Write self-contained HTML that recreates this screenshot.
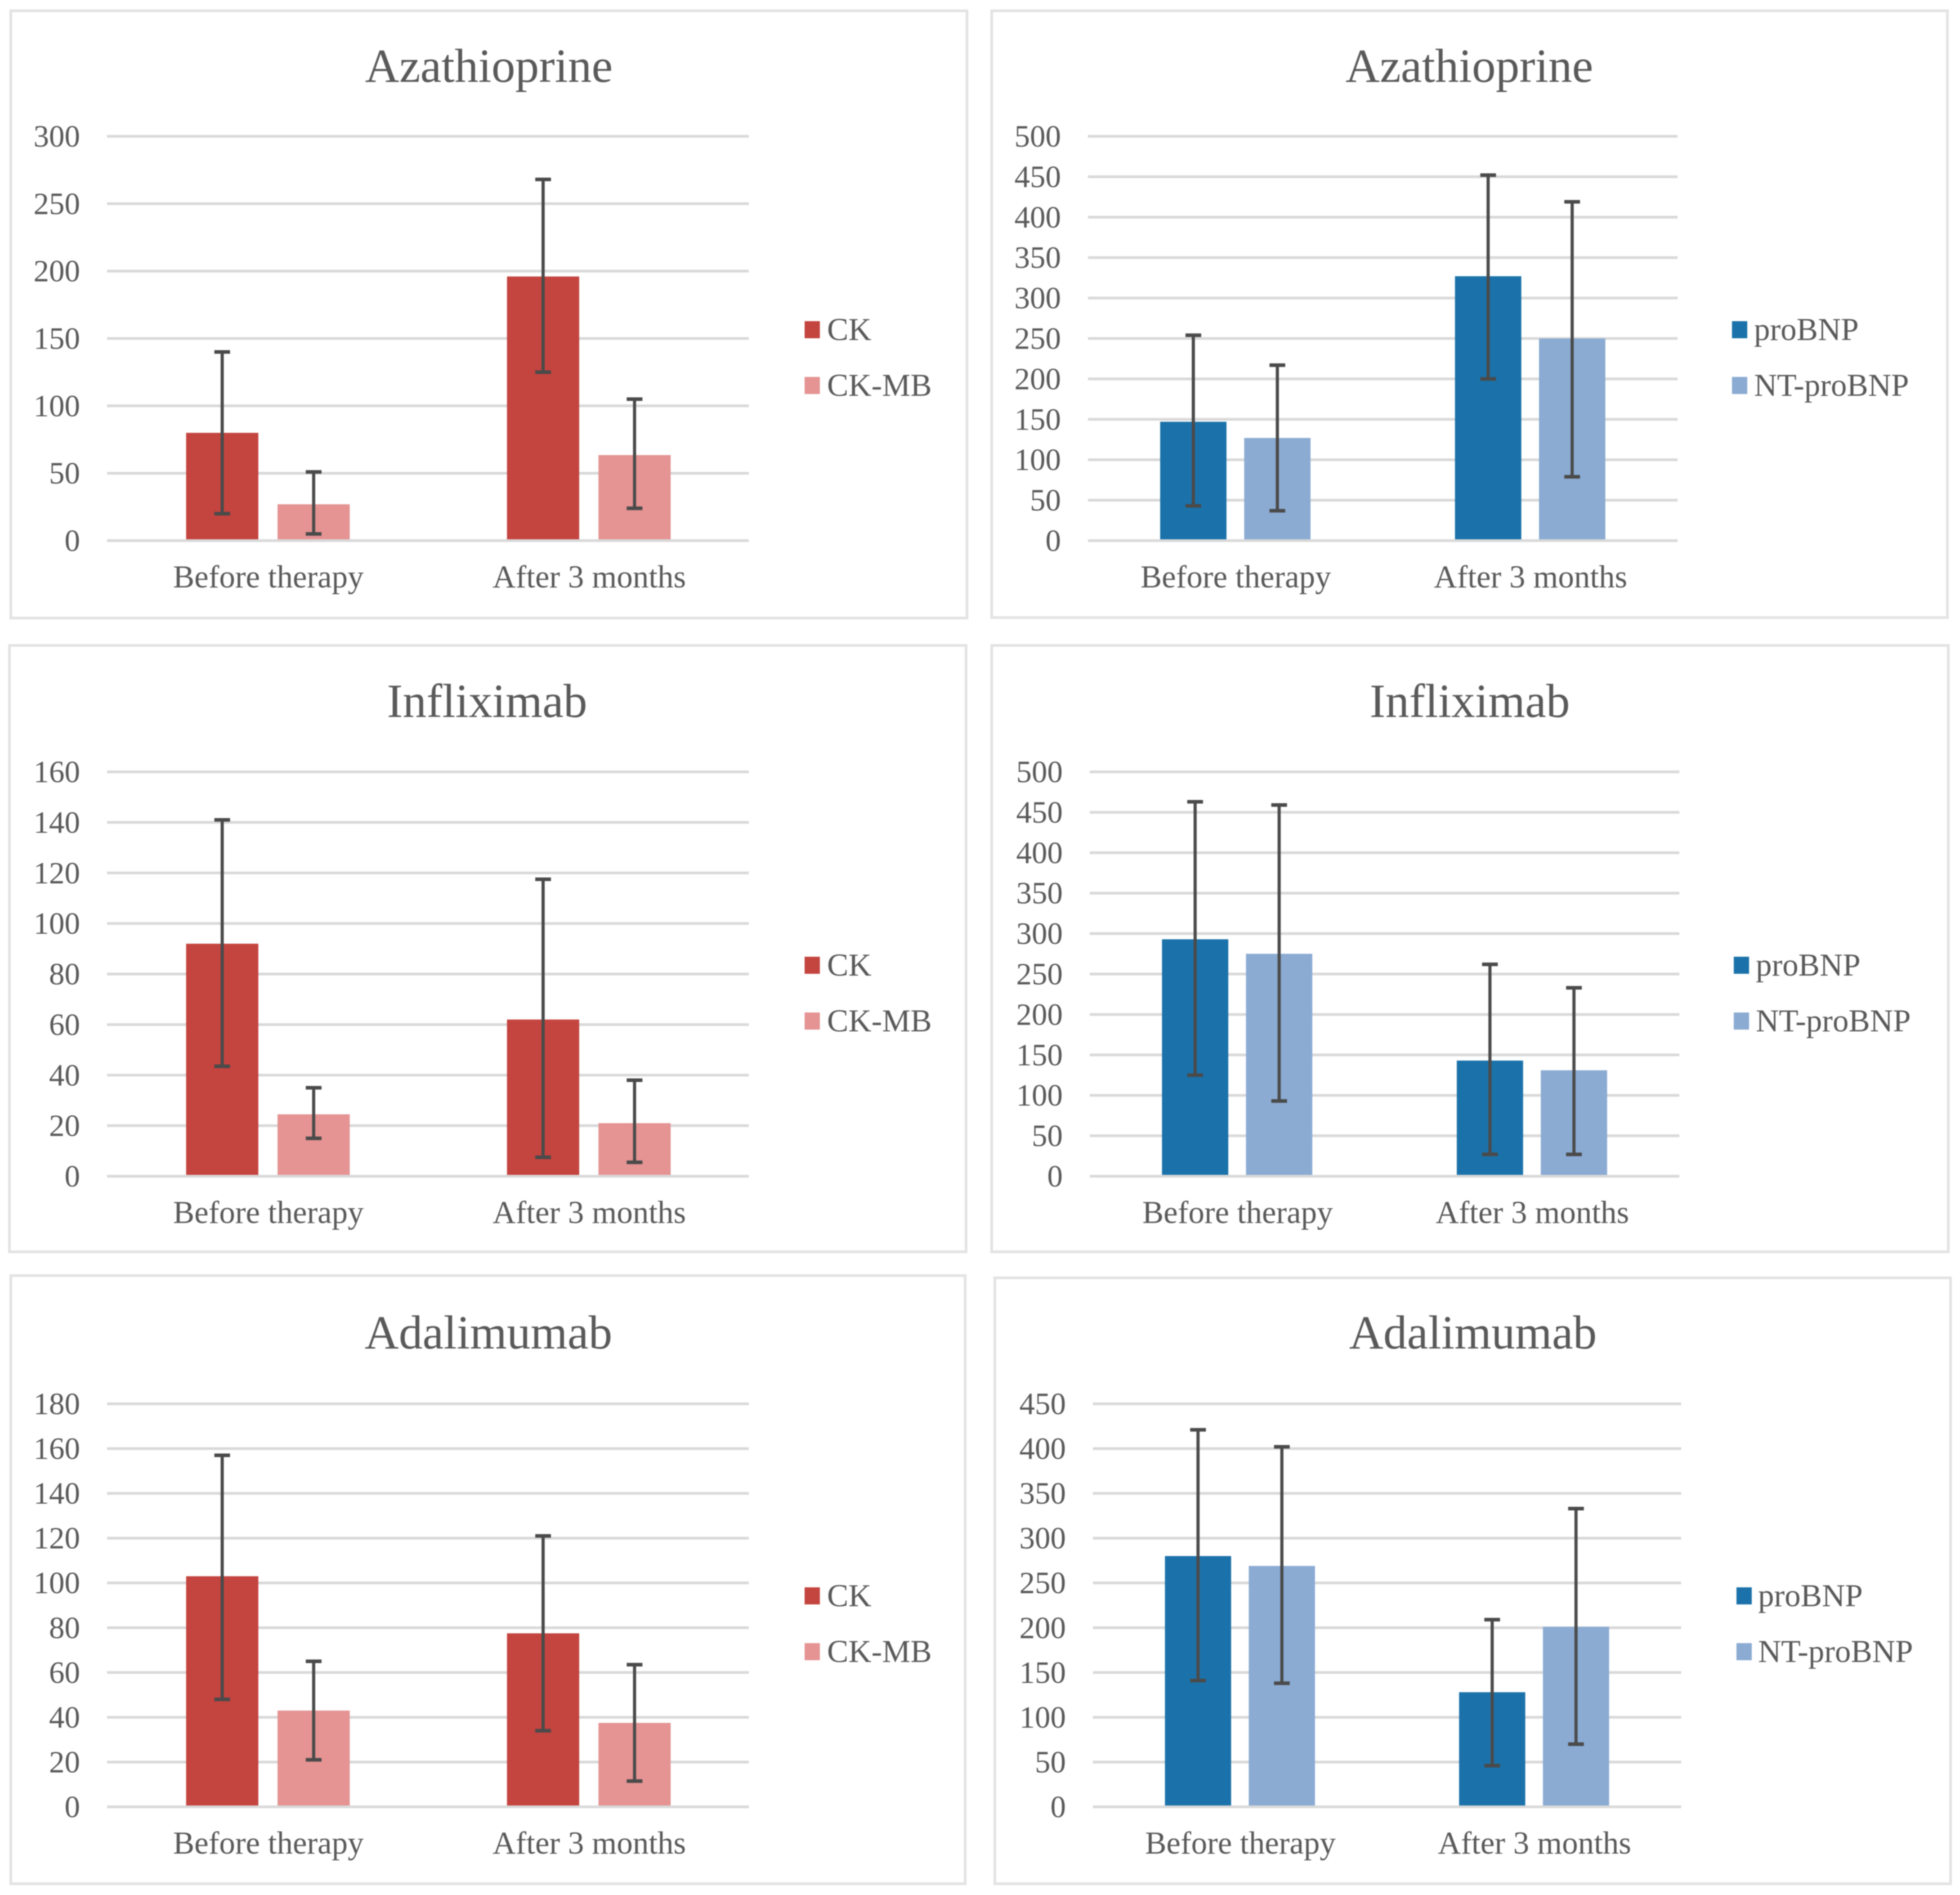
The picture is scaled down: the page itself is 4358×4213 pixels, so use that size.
<!DOCTYPE html>
<html lang="en">
<head>
<meta charset="utf-8">
<title>CK, CK-MB, proBNP and NT-proBNP by therapy</title>
<style>
  html, body { margin: 0; padding: 0; background: #ffffff; }
  svg { display: block; font-family: "Liberation Serif", "Times New Roman", serif; filter: blur(1.2px); }
  .frame { fill: #ffffff; stroke: #e3e3e3; stroke-width: 6; }
  .title { font-size: 105.5px; fill: #595959; text-anchor: middle; }
  .legend-text { font-size: 71px; fill: #595959; }
  .tick { font-size: 69px; fill: #595959; text-anchor: end; }
  .cat { font-size: 71px; fill: #595959; text-anchor: middle; }
</style>
</head>
<body>
<svg xmlns="http://www.w3.org/2000/svg" width="4358" height="4213" viewBox="0 0 4358 4213">
  <rect x="0" y="0" width="4358" height="4213" fill="#ffffff"/>

  <g>
    <rect class="frame" x="24" y="24" width="2126" height="1350"/>
    <text class="title" x="1087" y="182">Azathioprine</text>
    <g id="plot-aza-ck"></g>
    <rect x="1789" y="714" width="34" height="38" fill="#c4443f"/>
    <text class="legend-text" x="1839" y="756">CK</text>
    <rect x="1789" y="838" width="34" height="38" fill="#e59393"/>
    <text class="legend-text" x="1839" y="880">CK-MB</text>
  </g>

  <g>
    <rect class="frame" x="2205" y="24" width="2125" height="1349"/>
    <text class="title" x="3267" y="182">Azathioprine</text>
    <g id="plot-aza-bnp"></g>
    <rect x="3851" y="714" width="34" height="38" fill="#1b72aa"/>
    <text class="legend-text" x="3900" y="756">proBNP</text>
    <rect x="3851" y="838" width="34" height="38" fill="#8babd3"/>
    <text class="legend-text" x="3900" y="880">NT-proBNP</text>
  </g>

  <g>
    <rect class="frame" x="21" y="1435" width="2127" height="1348"/>
    <text class="title" x="1083" y="1594">Infliximab</text>
    <g id="plot-inf-ck"></g>
    <rect x="1789" y="2127" width="34" height="38" fill="#c4443f"/>
    <text class="legend-text" x="1839" y="2169">CK</text>
    <rect x="1789" y="2251" width="34" height="38" fill="#e59393"/>
    <text class="legend-text" x="1839" y="2293">CK-MB</text>
  </g>

  <g>
    <rect class="frame" x="2205" y="1435" width="2127" height="1348"/>
    <text class="title" x="3268" y="1594">Infliximab</text>
    <g id="plot-inf-bnp"></g>
    <rect x="3855" y="2127" width="34" height="38" fill="#1b72aa"/>
    <text class="legend-text" x="3904" y="2169">proBNP</text>
    <rect x="3855" y="2251" width="34" height="38" fill="#8babd3"/>
    <text class="legend-text" x="3904" y="2293">NT-proBNP</text>
  </g>

  <g>
    <rect class="frame" x="24" y="2836" width="2122" height="1352"/>
    <text class="title" x="1086" y="2998">Adalimumab</text>
    <g id="plot-ada-ck"></g>
    <rect x="1789" y="3529" width="34" height="38" fill="#c4443f"/>
    <text class="legend-text" x="1839" y="3571">CK</text>
    <rect x="1789" y="3653" width="34" height="38" fill="#e59393"/>
    <text class="legend-text" x="1839" y="3695">CK-MB</text>
  </g>

  <g>
    <rect class="frame" x="2212" y="2841" width="2125" height="1347"/>
    <text class="title" x="3275" y="2998">Adalimumab</text>
    <g id="plot-ada-bnp"></g>
    <rect x="3861" y="3529" width="34" height="38" fill="#1b72aa"/>
    <text class="legend-text" x="3909" y="3571">proBNP</text>
    <rect x="3861" y="3653" width="34" height="38" fill="#8babd3"/>
    <text class="legend-text" x="3909" y="3695">NT-proBNP</text>
  </g>
</svg>

<script>
const categories = ['Before therapy', 'After 3 months'];

const azaCkTicks = [0, 50, 100, 150, 200, 250, 300];
const azaCk = [80, 196];
const azaCkUpper = [140, 268];
const azaCkLower = [20, 125];
const azaCkMb = [27, 63.5];
const azaCkMbUpper = [51, 105];
const azaCkMbLower = [5, 24];

const azaBnpTicks = [0, 50, 100, 150, 200, 250, 300, 350, 400, 450, 500];
const azaProBnp = [147, 327];
const azaProBnpUpper = [254, 452];
const azaProBnpLower = [43, 200];
const azaNtProBnp = [127, 250];
const azaNtProBnpUpper = [217, 419];
const azaNtProBnpLower = [37, 79];

const infCkTicks = [0, 20, 40, 60, 80, 100, 120, 140, 160];
const infCk = [92, 62];
const infCkUpper = [141, 117.5];
const infCkLower = [43.5, 7.5];
const infCkMb = [24.5, 21];
const infCkMbUpper = [35, 38];
const infCkMbLower = [15, 5.5];

const infBnpTicks = [0, 50, 100, 150, 200, 250, 300, 350, 400, 450, 500];
const infProBnp = [293, 143];
const infProBnpUpper = [463, 262];
const infProBnpLower = [125, 27];
const infNtProBnp = [275, 131];
const infNtProBnpUpper = [459, 233];
const infNtProBnpLower = [93, 27];

const adaCkTicks = [0, 20, 40, 60, 80, 100, 120, 140, 160, 180];
const adaCk = [103, 77.5];
const adaCkUpper = [157, 121];
const adaCkLower = [48, 34];
const adaCkMb = [43, 37.5];
const adaCkMbUpper = [65, 63.5];
const adaCkMbLower = [21, 11.5];

const adaBnpTicks = [0, 50, 100, 150, 200, 250, 300, 350, 400, 450];
const adaProBnp = [280, 128];
const adaProBnpUpper = [421, 209];
const adaProBnpLower = [141, 46];
const adaNtProBnp = [269, 201];
const adaNtProBnpUpper = [402, 333];
const adaNtProBnpLower = [138, 70];

const SVG_NS = 'http://www.w3.org/2000/svg';
const RED_DARK = '#c4443f';
const RED_LIGHT = '#e59393';
const BLUE_DARK = '#1b72aa';
const BLUE_LIGHT = '#8babd3';

function make(tag, parent, attrs) {
  const el = document.createElementNS(SVG_NS, tag);
  for (const key in attrs) el.setAttribute(key, attrs[key]);
  parent.appendChild(el);
  return el;
}

function drawChart(id, left, right, top, bottom, ticks, first, second, shift) {
  const g = document.getElementById(id);
  const maxValue = ticks[ticks.length - 1];
  const yScale = v => bottom - (v / maxValue) * (bottom - top);
  const band = (right - left) / categories.length;
  const bandCenter = i => left + band * (i + 0.5) + shift;
  const barWidth = band * 0.225;
  const barGap = band * 0.06;
  const barLeft = (i, s) => bandCenter(i) - barWidth - barGap / 2 + s * (barWidth + barGap);

  ticks.forEach(t => {
    const line = make('rect', g, { x: left, y: yScale(t) - 3, width: right - left, height: 6, fill: '#d9d9d9' });
    
    
    const label = make('text', g, { class: 'tick', x: left - 60, y: yScale(t) + 23 });
    label.textContent = String(t);
    
    
  });

  categories.forEach((c, i) => {
    const label = make('text', g, { class: 'cat', x: bandCenter(i) + 1, y: bottom + 104 });
    label.textContent = c;
    
    
  });

  [first, second].forEach((series, s) => {
    series.values.forEach((v, i) => {
      const bar = make('rect', g, {
        x: barLeft(i, s), y: yScale(v),
        width: barWidth, height: yScale(0) - 3 - yScale(v),
        fill: series.color
      });
      
      
    });
  });

  [first, second].forEach((series, s) => {
    series.values.forEach((v, i) => {
      const cx = barLeft(i, s) + barWidth / 2;
      const yHigh = yScale(series.upper[i]);
      const yLow = yScale(series.lower[i]);
      const stem = make('rect', g, { x: cx - 3.5, y: yHigh, width: 7, height: yLow - yHigh, fill: '#4a4a4a' });
      
      
      const capTop = make('rect', g, { x: cx - 17.5, y: yHigh - 4, width: 35, height: 8, fill: '#4a4a4a' });
      
      
      const capBottom = make('rect', g, { x: cx - 17.5, y: yLow - 4, width: 35, height: 8, fill: '#4a4a4a' });
      
      
    });
  });
}

drawChart('plot-aza-ck', 238, 1665, 303, 1202, azaCkTicks,
  { values: azaCk, upper: azaCkUpper, lower: azaCkLower, color: RED_DARK },
  { values: azaCkMb, upper: azaCkMbUpper, lower: azaCkMbLower, color: RED_LIGHT }, 1);

drawChart('plot-aza-bnp', 2419, 3730, 303, 1202, azaBnpTicks,
  { values: azaProBnp, upper: azaProBnpUpper, lower: azaProBnpLower, color: BLUE_DARK },
  { values: azaNtProBnp, upper: azaNtProBnpUpper, lower: azaNtProBnpLower, color: BLUE_LIGHT }, 0);

drawChart('plot-inf-ck', 238, 1665, 1716, 2615, infCkTicks,
  { values: infCk, upper: infCkUpper, lower: infCkLower, color: RED_DARK },
  { values: infCkMb, upper: infCkMbUpper, lower: infCkMbLower, color: RED_LIGHT }, 1);

drawChart('plot-inf-bnp', 2423, 3734, 1716, 2615, infBnpTicks,
  { values: infProBnp, upper: infProBnpUpper, lower: infProBnpLower, color: BLUE_DARK },
  { values: infNtProBnp, upper: infNtProBnpUpper, lower: infNtProBnpLower, color: BLUE_LIGHT }, 0);

drawChart('plot-ada-ck', 238, 1665, 3121, 4017, adaCkTicks,
  { values: adaCk, upper: adaCkUpper, lower: adaCkLower, color: RED_DARK },
  { values: adaCkMb, upper: adaCkMbUpper, lower: adaCkMbLower, color: RED_LIGHT }, 1);

drawChart('plot-ada-bnp', 2430, 3738, 3121, 4017, adaBnpTicks,
  { values: adaProBnp, upper: adaProBnpUpper, lower: adaProBnpLower, color: BLUE_DARK },
  { values: adaNtProBnp, upper: adaNtProBnpUpper, lower: adaNtProBnpLower, color: BLUE_LIGHT }, 0);
</script>
</body>
</html>
